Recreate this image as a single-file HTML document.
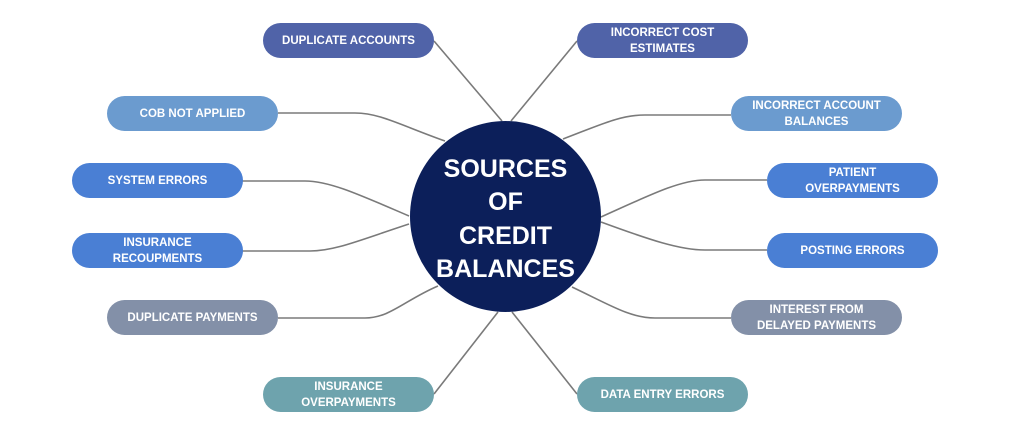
<!DOCTYPE html>
<html><head><style>
body{margin:0;width:1024px;height:445px;background:#fff;position:relative;overflow:hidden;font-family:"Liberation Sans",sans-serif}
.b{position:absolute;border-radius:18px;color:#fff;font-weight:bold;font-size:11.5px;display:flex;align-items:center;justify-content:center;text-align:center;line-height:16px;height:35px;width:171px}
svg{position:absolute;left:0;top:0}
.c{position:absolute;left:410px;top:121px;width:191px;height:191px;box-sizing:border-box;padding-top:6px;border-radius:50%;background:#0c1f5a;color:#fff;font-weight:bold;font-size:25px;line-height:33.5px;display:flex;align-items:center;justify-content:center;text-align:center}
</style></head><body>
<svg width="1024" height="445"><g fill="none" stroke="#7a7a7a" stroke-width="1.6">
<path d="M434 41 L502 121"/>
<path d="M278 113 L355 113 C380 113 400 125 445 141"/>
<path d="M242 181 L305 181 C330 181 360 195 409 216"/>
<path d="M242 251 L310 251 C335 251 360 240 409 224"/>
<path d="M278 318 L365 318 C390 318 405 300 438 286"/>
<path d="M434 394 L498 312"/>
<path d="M577 41 L511 121"/>
<path d="M731 115 L645 115 C620 115 600 125 563 139"/>
<path d="M767 180 L705 180 C680 180 650 195 601 217"/>
<path d="M767 250 L705 250 C680 250 650 240 601 222"/>
<path d="M731 318 L655 318 C630 318 610 305 572 287"/>
<path d="M577 394 L512 312"/>
</g></svg>
<div class="c">SOURCES<br>OF<br>CREDIT<br>BALANCES</div>
<div class="b" style="left:263px;top:23px;background:#5063a8">DUPLICATE ACCOUNTS</div>
<div class="b" style="left:107px;top:96px;background:#6b9bcf">COB NOT APPLIED</div>
<div class="b" style="left:72px;top:163px;background:#4a7fd4">SYSTEM ERRORS</div>
<div class="b" style="left:72px;top:233px;background:#4a7fd4">INSURANCE<br>RECOUPMENTS</div>
<div class="b" style="left:107px;top:300px;background:#8390a8">DUPLICATE PAYMENTS</div>
<div class="b" style="left:263px;top:377px;background:#6ea3ad">INSURANCE<br>OVERPAYMENTS</div>
<div class="b" style="left:577px;top:23px;background:#5063a8">INCORRECT COST<br>ESTIMATES</div>
<div class="b" style="left:731px;top:96px;background:#6b9bcf">INCORRECT ACCOUNT<br>BALANCES</div>
<div class="b" style="left:767px;top:163px;background:#4a7fd4">PATIENT<br>OVERPAYMENTS</div>
<div class="b" style="left:767px;top:233px;background:#4a7fd4">POSTING ERRORS</div>
<div class="b" style="left:731px;top:300px;background:#8390a8">INTEREST FROM<br>DELAYED PAYMENTS</div>
<div class="b" style="left:577px;top:377px;background:#6ea3ad">DATA ENTRY ERRORS</div>
</body></html>
